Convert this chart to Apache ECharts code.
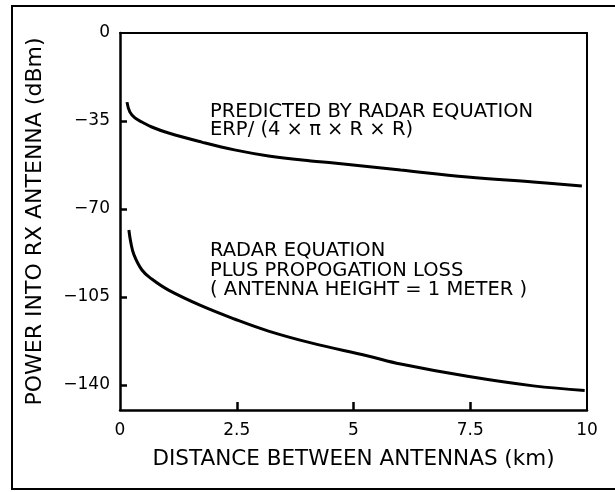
<!DOCTYPE html>
<html>
<head>
<meta charset="utf-8">
<script src="https://cdn.jsdelivr.net/npm/echarts@6/dist/echarts.min.js"></script>
<style>
html,body{margin:0;padding:0;background:#fff;}
#chart{width:615px;height:492px;}
</style>
</head>
<body>
<div id="chart"></div>
<script>
// Data
const xTickLabels = [0, 2.5, 5, 7.5, 10];
const yTickLabels = [0, -35, -70, -105, -140];
const xMin = 0, xMax = 10, yMin = -150, yMax = 0;

const radarKm   = [0.15, 0.21, 0.32, 0.47, 0.68, 1.04, 1.75, 2.45, 3.18, 4.09, 4.58, 6.01, 7.44, 8.85, 9.89];
const radarDbm  = [-27.5, -31.4, -33.8, -35.4, -37.4, -39.8, -43.4, -46.5, -48.9, -50.9, -51.7, -54.5, -57.3, -59.3, -60.9];

const propKm    = [0.19, 0.23, 0.30, 0.47, 0.68, 1.04, 1.75, 2.45, 3.18, 4.09, 5.31, 6.01, 7.44, 8.85, 9.95];
const propDbm   = [-78.4, -83.2, -88.3, -94.3, -97.9, -102.3, -108.6, -113.8, -118.6, -123.3, -128.5, -131.7, -136.6, -140.4, -142.2];

const upperNote = ['PREDICTED BY RADAR EQUATION', 'ERP/ (4 × π × R × R)'];
const lowerNote = ['RADAR EQUATION', 'PLUS PROPOGATION LOSS', '( ANTENNA HEIGHT = 1 METER )'];

const FONT = 'DejaVu Sans';
const toPairs = (xs, ys) => xs.map((x, i) => [x, ys[i]]);
const minus = v => String(v).replace('-', '\u2212');

const chart = echarts.init(document.getElementById('chart'));

const noteTexts = [];
upperNote.forEach((t, i) => noteTexts.push({type: 'text', left: 210, top: 102 + i * 18,
  style: {text: t, font: '19.5px "' + FONT + '"', fill: '#000'}}));
lowerNote.forEach((t, i) => noteTexts.push({type: 'text', left: 210, top: 241 + i * 19.5,
  style: {text: t, font: '19.5px "' + FONT + '"', fill: '#000'}}));

const frameAxis = {
  type: 'value', axisLine: {show: true, onZero: false, lineStyle: {color: '#000', width: 2}},
  axisTick: {show: false}, axisLabel: {show: false}, splitLine: {show: false}
};

// inward tick marks at the labelled values (short segments in data units along each axis)
const xTickLen = (yMax - yMin) * 8 / 377;   // about 8 px
const yTickLen = (xMax - xMin) * 7 / 467;   // about 7 px
const tickLines = []
  .concat(xTickLabels.filter(v => v > xMin && v < xMax)
    .map(v => [{coord: [v, yMin]}, {coord: [v, yMin + xTickLen]}]))
  .concat(yTickLabels.filter(v => v > yMin && v < yMax)
    .map(v => [{coord: [xMin, v]}, {coord: [xMin + yTickLen, v]}]));

chart.setOption({
  animation: false,
  grid: {left: 120, right: 28, top: 33, bottom: 82, show: false},
  xAxis: [{
    type: 'value', min: xMin, max: xMax, interval: 2.5, position: 'bottom',
    name: 'DISTANCE BETWEEN ANTENNAS (km)', nameLocation: 'middle', nameGap: 38,
    nameTextStyle: {fontFamily: FONT, fontSize: 21.5, color: '#000'},
    axisLine: {show: true, onZero: false, lineStyle: {color: '#000', width: 2.5}},
    axisTick: {show: false},
    axisLabel: {fontFamily: FONT, fontSize: 17, color: '#000', margin: 12,
      formatter: v => (xTickLabels.indexOf(v) >= 0 ? String(v) : '')},
    splitLine: {show: false}
  }, Object.assign({}, frameAxis, {position: 'top', min: xMin, max: xMax})],
  yAxis: [{
    type: 'value', min: yMin, max: yMax, interval: 5, position: 'left',
    name: 'POWER INTO RX ANTENNA (dBm)', nameLocation: 'middle', nameGap: 74, nameRotate: 90,
    nameTextStyle: {fontFamily: FONT, fontSize: 22, color: '#000'},
    axisLine: {show: true, onZero: false, lineStyle: {color: '#000', width: 2.5}},
    axisTick: {show: false},
    axisLabel: {fontFamily: FONT, fontSize: 17, color: '#000', margin: 10,
      formatter: v => (yTickLabels.indexOf(v) >= 0 ? minus(v) : '')},
    splitLine: {show: false}
  }, Object.assign({}, frameAxis, {position: 'right', min: yMin, max: yMax})],
  series: [
    {type: 'line', name: 'Radar equation', data: toPairs(radarKm, radarDbm), smooth: 0.4,
      showSymbol: false, lineStyle: {color: '#000', width: 3},
      markLine: {silent: true, symbol: ['none', 'none'], animation: false,
        label: {show: false}, emphasis: {disabled: true},
        lineStyle: {color: '#000', width: 2.5, type: 'solid'},
        data: tickLines}},
    {type: 'line', name: 'Radar equation plus propagation loss', data: toPairs(propKm, propDbm), smooth: 0.4,
      showSymbol: false, lineStyle: {color: '#000', width: 3}}
  ],
  graphic: [
    {type: 'polyline', silent: true,
      shape: {points: [[660, 6], [12, 6], [12, 489], [660, 489]]},
      style: {stroke: '#000', lineWidth: 2}}
  ].concat(noteTexts)
});
</script>
</body>
</html>
